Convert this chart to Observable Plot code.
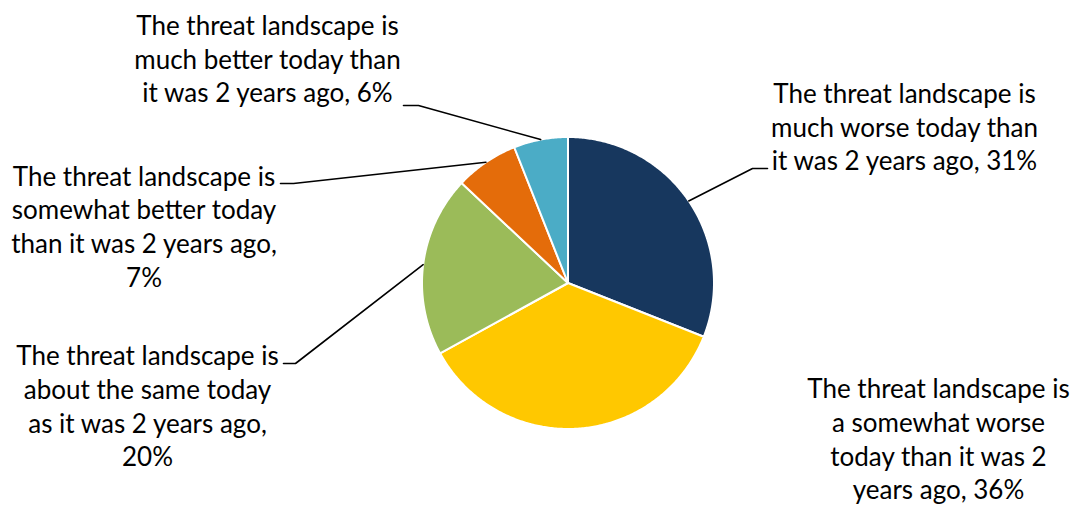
<!DOCTYPE html>
<html>
<head>
<meta charset="utf-8">
<script src="https://cdn.jsdelivr.net/npm/d3@7"></script>
<script src="https://cdn.jsdelivr.net/npm/@observablehq/plot@0.6"></script>
<style>
  html, body { margin: 0; padding: 0; background: #fff; }
  #chart svg { display: block; }
</style>
</head>
<body>
<div id="chart"></div>
<script>
// ---- data ----
const categories = [
  "The threat landscape is much worse today than it was 2 years ago",
  "The threat landscape is a somewhat worse today than it was 2 years ago",
  "The threat landscape is about the same today as it was 2 years ago",
  "The threat landscape is somewhat better today than it was 2 years ago",
  "The threat landscape is much better today than it was 2 years ago"
];
const values = [31, 36, 20, 7, 6];
const labelLines = [
  ["The threat landscape is", "much worse today than", "it was 2 years ago, 31%"],
  ["The threat landscape is", "a somewhat worse", "today than it was 2", "years ago, 36%"],
  ["The threat landscape is", "about the same today", "as it was 2 years ago,", "20%"],
  ["The threat landscape is", "somewhat better today", "than it was 2 years ago,", "7%"],
  ["The threat landscape is", "much better today than", "it was 2 years ago, 6%"]
];
const colors = ["#17375e", "#ffc800", "#9bbb59", "#e46c0a", "#4bacc6"];

// ---- layout (offsets from pie centre, in chart units) ----
const W = 1076, H = 508, cx = 567.5, cy = 282.5, R = 146;
const labelPos = [[336.5, 157], [370.5, -155], [-420.5, -122], [-424, 57.5], [-300.5, 225]];
const leaderElbow = [[184.5, 114.5], null, [-272.5, -80.5], [-274.5, 99.5], [-149.5, 177.5]];
const leaderEnd = [[199.5, 114.5], null, [-284.5, -80.5], [-287.5, 99.5], [-164.5, 177.5]];

// ---- geometry ----
const total = d3.sum(values);
const slices = [];
let acc = 0;
const mids = [];
values.forEach((v, i) => {
  const a0 = acc / total * 2 * Math.PI;
  acc += v;
  const a1 = acc / total * 2 * Math.PI;
  const n = Math.max(2, Math.ceil((a1 - a0) / 0.01));
  slices.push({cat: categories[i], x: 0, y: 0});
  for (let k = 0; k <= n; k++) {
    const a = a0 + (a1 - a0) * k / n;
    slices.push({cat: categories[i], x: R * Math.sin(a), y: R * Math.cos(a)});
  }
  slices.push({cat: categories[i], x: 0, y: 0});
  const am = (a0 + a1) / 2;
  mids.push([R * Math.sin(am), R * Math.cos(am)]);
});

const leaders = [];
categories.forEach((c, i) => {
  if (!leaderElbow[i]) return;
  leaders.push({cat: c, x: mids[i][0], y: mids[i][1]});
  leaders.push({cat: c, x: leaderElbow[i][0], y: leaderElbow[i][1]});
  leaders.push({cat: c, x: leaderEnd[i][0], y: leaderEnd[i][1]});
});

const labels = categories.map((c, i) => ({
  cat: c, x: labelPos[i][0], y: labelPos[i][1], text: labelLines[i].join("\n")
}));

const chart = Plot.plot({
  width: W,
  height: H,
  margin: 0,
  x: {domain: [-cx, W - cx], axis: null},
  y: {domain: [-(H - cy), cy], axis: null},
  color: {domain: categories, range: colors},
  style: {background: "#fff"},
  marks: [
    Plot.line(slices, {x: "x", y: "y", z: "cat", fill: "cat", stroke: "#fff", strokeWidth: 2, strokeLinejoin: "round", curve: "linear"}),
    Plot.line(leaders, {x: "x", y: "y", z: "cat", stroke: "#000", strokeWidth: 1.6}),
    Plot.text(labels, {x: "x", y: "y", text: "text", fontFamily: "Lato", fontSize: 26, lineHeight: 1.29, fill: "#000", textAnchor: "middle"})
  ]
});
document.getElementById("chart").appendChild(chart);
</script>
</body>
</html>
